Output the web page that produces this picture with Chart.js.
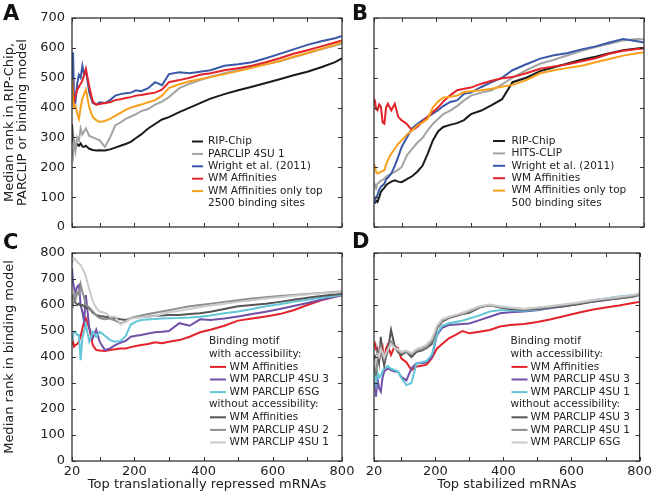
<!DOCTYPE html>
<html>
<head>
<meta charset="utf-8">
<script src="https://cdn.jsdelivr.net/npm/chart.js@4.4.0/dist/chart.umd.min.js"></script>
<style>
body{margin:0;background:#fff;}
#wrap{position:relative;width:655px;height:501px;}
#wrap canvas{position:absolute;left:0;top:0;}
</style>
</head>
<body>
<div id="wrap">
<canvas id="pA" width="655" height="501"></canvas>
<canvas id="pB" width="655" height="501"></canvas>
<canvas id="pC" width="655" height="501"></canvas>
<canvas id="pD" width="655" height="501"></canvas>
</div>
<script>
// number of top mRNAs (x), shared by all panels
const X = [20, 23, 26, 30, 35, 40, 45, 50, 55, 60, 70, 80, 90, 100, 115, 130, 145, 160, 175, 190,
           205, 220, 240, 260, 280, 300, 330, 360, 390, 420, 460, 500, 540, 580, 620, 660, 700, 740, 780, 800];
const X_TICKS = [20, 100, 200, 300, 400, 500, 600, 700, 800];
const X_LABELED = [20, 200, 400, 600, 800];
const Y_TICKS_TOP = [0, 100, 200, 300, 400, 500, 600, 700];
const Y_TICKS_BOTTOM = [0, 100, 200, 300, 400, 500, 600, 700, 800];

// panel A - translationally repressed
const A_labels = ['RIP-Chip', 'PARCLIP 4SU 1', 'Wright et al. (2011)', 'WM Affinities', 'WM Affinities only top'];
const A_ripchip = [345, 290, 275, 265, 278, 272, 280, 270, 268, 272, 262, 258, 256, 257, 256, 260, 266, 272, 278, 285,
                   298, 310, 330, 345, 360, 368, 385, 400, 415, 430, 445, 458, 470, 482, 495, 508, 520, 535, 552, 565];
const A_parclip = [260, 240, 290, 255, 300, 290, 330, 310, 320, 330, 305, 300, 295, 290, 268, 300, 340, 350, 362, 370,
                   378, 388, 395, 410, 420, 435, 465, 480, 492, 503, 515, 525, 535, 545, 555, 568, 582, 595, 608, 615];
const A_wright = [480, 585, 430, 420, 480, 510, 500, 540, 510, 525, 450, 415, 410, 418, 415, 425, 440, 445, 448, 450,
                  458, 455, 465, 485, 475, 512, 518, 515, 520, 525, 540, 545, 552, 565, 580, 595, 610, 622, 632, 640];
const A_wmaff = [500, 440, 420, 440, 460, 470, 480, 490, 510, 530, 470, 420, 410, 412, 415, 418, 425, 428, 432, 435,
                 440, 442, 446, 450, 460, 485, 492, 500, 510, 515, 525, 532, 540, 552, 565, 580, 592, 605, 618, 625];
const A_wmtop = [495, 420, 400, 405, 380, 362, 400, 430, 445, 460, 400, 368, 358, 352, 355, 362, 372, 382, 392, 400,
                 405, 410, 418, 425, 440, 465, 478, 488, 495, 502, 512, 522, 533, 545, 556, 570, 583, 597, 610, 620];

// panel B - stabilized
const B_labels = ['RIP-Chip', 'HITS-CLIP', 'Wright et al. (2011)', 'WM Affinities', 'WM Affinities only top'];
const B_ripchip = [84, 82, 88, 84, 100, 118, 125, 132, 140, 145, 152, 156, 152, 150, 160, 170, 185, 205, 245, 290,
                   320, 335, 342, 348, 358, 378, 390, 408, 428, 485, 500, 522, 535, 548, 560, 570, 582, 592, 598, 600];
const B_hits = [134, 140, 130, 145, 150, 155, 158, 162, 168, 172, 179, 185, 192, 201, 240, 262, 282, 298, 324, 345,
                362, 378, 390, 405, 424, 440, 450, 458, 478, 500, 525, 547, 560, 575, 590, 603, 614, 625, 630, 628];
const B_wright = [79, 90, 100, 107, 125, 135, 140, 145, 160, 165, 179, 205, 235, 268, 300, 330, 345, 357, 369, 380,
                  391, 405, 419, 424, 446, 450, 469, 485, 500, 525, 545, 564, 575, 583, 595, 605, 618, 630, 622, 618];
const B_wmaff = [430, 420, 395, 391, 410, 402, 350, 346, 400, 413, 391, 413, 369, 357, 345, 324, 335, 352, 369, 385,
                 400, 420, 441, 458, 463, 467, 480, 490, 498, 502, 515, 530, 538, 545, 555, 565, 580, 590, 596, 598];
const B_wmtop = [212, 200, 185, 179, 182, 185, 188, 190, 210, 224, 246, 262, 279, 290, 310, 324, 340, 350, 362, 400,
                 420, 433, 436, 440, 452, 455, 458, 463, 470, 476, 492, 515, 525, 533, 540, 552, 563, 574, 582, 585];

// panel C - binding models, translationally repressed
const C_labels = ['WM Affinities', 'WM PARCLIP 4SU 3', 'WM PARCLIP 6SG', 'WM Affinities', 'WM PARCLIP 4SU 2', 'WM PARCLIP 4SU 1'];
const C_accAff = [446, 459, 440, 446, 450, 459, 480, 510, 535, 549, 510, 446, 427, 425, 423, 427, 430, 433, 433, 438,
                  442, 446, 450, 457, 453, 459, 465, 478, 495, 505, 520, 540, 548, 556, 565, 580, 600, 618, 632, 640];
const C_acc4su3 = [741, 690, 664, 650, 670, 677, 600, 574, 536, 638, 510, 472, 505, 459, 427, 433, 446, 455, 462, 478,
                   482, 485, 490, 495, 497, 500, 530, 520, 545, 542, 548, 556, 565, 574, 585, 596, 608, 620, 632, 638];
const C_acc6sg = [459, 480, 497, 497, 485, 485, 388, 472, 500, 523, 459, 497, 478, 497, 482, 465, 459, 462, 480, 525,
                  536, 542, 544, 546, 548, 549, 550, 552, 555, 560, 568, 575, 585, 595, 603, 612, 620, 628, 635, 640];
const C_noAff = [638, 625, 615, 610, 600, 605, 598, 600, 595, 590, 587, 570, 562, 558, 555, 553, 549, 545, 542, 549,
                 552, 555, 556, 559, 560, 562, 562, 565, 568, 574, 585, 595, 600, 605, 612, 620, 628, 635, 640, 643];
const C_no4su2 = [610, 600, 640, 620, 650, 640, 680, 650, 630, 600, 590, 575, 560, 550, 545, 548, 540, 530, 535, 550,
                  555, 560, 565, 570, 575, 580, 588, 595, 600, 605, 612, 618, 625, 630, 635, 638, 642, 646, 650, 652];
const C_no4su1 = [760, 770, 780, 775, 765, 760, 754, 740, 728, 710, 660, 615, 590, 574, 570, 555, 555, 525, 536, 548,
                  550, 553, 556, 558, 565, 572, 578, 585, 592, 598, 605, 612, 618, 625, 630, 636, 640, 645, 648, 650];

// panel D - binding models, stabilized
const D_labels = ['WM Affinities', 'WM PARCLIP 4SU 3', 'WM PARCLIP 4SU 1', 'WM PARCLIP 4SU 3', 'WM PARCLIP 4SU 1', 'WM PARCLIP 6SG'];
const D_accAff = [440, 450, 430, 433, 390, 420, 440, 382, 430, 446, 408, 440, 435, 395, 380, 350, 363, 366, 372, 395,
                  433, 450, 472, 485, 500, 491, 497, 504, 517, 523, 527, 535, 545, 558, 570, 582, 590, 598, 608, 612];
const D_acc4su3 = [292, 300, 247, 318, 280, 267, 320, 344, 350, 356, 350, 344, 344, 324, 310, 356, 376, 376, 380, 400,
                   485, 512, 523, 525, 527, 529, 542, 555, 568, 572, 575, 580, 588, 595, 605, 612, 618, 628, 635, 640];
const D_acc4su1 = [360, 330, 300, 340, 320, 330, 345, 355, 360, 365, 355, 350, 345, 320, 292, 300, 376, 380, 385, 410,
                   490, 520, 530, 535, 540, 548, 560, 575, 580, 580, 578, 582, 590, 598, 608, 618, 625, 633, 638, 642];
const D_no4su3 = [344, 408, 330, 420, 380, 478, 400, 369, 400, 420, 504, 446, 420, 408, 420, 400, 420, 425, 435, 450,
                  510, 536, 550, 558, 565, 570, 590, 600, 590, 585, 582, 585, 590, 596, 603, 612, 620, 625, 632, 638];
const D_no4su1 = [360, 380, 350, 400, 420, 440, 410, 390, 410, 430, 460, 440, 425, 415, 420, 410, 425, 430, 440, 460,
                  515, 540, 552, 560, 567, 575, 592, 598, 592, 588, 585, 588, 593, 600, 607, 615, 622, 628, 635, 640];
const D_no6sg = [380, 370, 390, 410, 400, 430, 420, 400, 415, 425, 450, 435, 430, 420, 425, 415, 430, 438, 448, 470,
                 520, 545, 555, 562, 570, 580, 595, 602, 595, 590, 585, 590, 596, 603, 610, 618, 625, 632, 638, 645];

const TOP_COLORS = ['#1a1a1a', '#a3a3a3', '#3a58a8', '#e3232a', '#f7a01b'];
const BOTTOM_COLORS = ['#e3232a', '#7050a8', '#62c6d8', '#555555', '#8e8e8e', '#cacaca'];

Chart.defaults.font.family = '"DejaVu Sans", sans-serif';
Chart.defaults.color = '#222';

// box + inward tick marks on all four sides, matplotlib style
const framePlugin = {
    id: 'frameTicks',
    afterDraw(chart, args, opts) {
        const { ctx, chartArea: a } = chart;
        const x = chart.scales.x, y = chart.scales.y;
        ctx.save();
        ctx.strokeStyle = '#333';
        ctx.lineWidth = 1;
        ctx.beginPath();
        X_TICKS.forEach(v => {
            const px = Math.round(x.getPixelForValue(v)) + 0.5;
            ctx.moveTo(px, a.bottom); ctx.lineTo(px, a.bottom - 4);
            ctx.moveTo(px, a.top); ctx.lineTo(px, a.top + 4);
        });
        opts.yTicks.forEach(v => {
            const py = Math.round(y.getPixelForValue(v)) + 0.5;
            ctx.moveTo(a.left, py); ctx.lineTo(a.left + 4, py);
            ctx.moveTo(a.right, py); ctx.lineTo(a.right - 4, py);
        });
        ctx.stroke();
        ctx.lineWidth = 1.3;
        ctx.strokeRect(a.left, a.top, a.right - a.left, a.bottom - a.top);
        ctx.font = 'bold 21px "DejaVu Sans"';
        ctx.fillStyle = '#111';
        ctx.textBaseline = 'middle';
        ctx.fillText(opts.letter, opts.lx, opts.ly);
        ctx.restore();
    }
};

// legend drawn inside the plot, with header lines
const legendPlugin = {
    id: 'boxLegend',
    afterDraw(chart, args, opts) {
        const ctx = chart.ctx;
        ctx.save();
        ctx.font = '10.5px "DejaVu Sans"';
        ctx.textBaseline = 'middle';
        ctx.fillStyle = '#222';
        opts.rows.forEach((row, i) => {
            const y = opts.y + i * opts.step;
            if (row.ds !== undefined) {
                const ds = chart.data.datasets[row.ds];
                ctx.strokeStyle = ds.borderColor;
                ctx.lineWidth = 2;
                ctx.beginPath();
                ctx.moveTo(opts.lineX, y);
                ctx.lineTo(opts.lineX + opts.lineLen, y);
                ctx.stroke();
                ctx.fillText(ds.label, opts.textX, y);
            } else {
                ctx.fillText(row.text, row.head ? opts.headX : opts.textX, y);
            }
        });
        ctx.restore();
    }
};

function createPanel(id, cfg) {
    const ctx = document.getElementById(id).getContext('2d');
    return new Chart(ctx, {
        type: 'line',
        data: {
            datasets: cfg.series.map((s, i) => ({
                label: cfg.labels[i],
                data: X.map((x, j) => ({ x: x, y: s[j] })),
                borderColor: cfg.colors[i],
                borderWidth: 2,
                pointRadius: 0,
                tension: 0,
                fill: false,
                order: cfg.series.length - i
            }))
        },
        options: {
            responsive: false,
            animation: false,
            layout: { padding: cfg.pad },
            plugins: {
                legend: { display: false },
                tooltip: { enabled: false },
                boxLegend: cfg.legend,
                frameTicks: { yTicks: cfg.yTicks, letter: cfg.letter, lx: cfg.lx, ly: cfg.ly }
            },
            scales: {
                x: {
                    type: 'linear', min: 20, max: 800,
                    grid: { display: false, drawTicks: false },
                    border: { display: false },
                    afterBuildTicks: s => { s.ticks = X_TICKS.map(v => ({ value: v })); },
                    afterFit: s => { s.height = cfg.xH; },
                    ticks: {
                        display: cfg.xLabels, autoSkip: false, maxRotation: 0, padding: 3,
                        font: { size: 13 },
                        callback: v => X_LABELED.includes(v) ? String(v) : ''
                    },
                    title: {
                        display: !!cfg.xTitle, text: cfg.xTitle || '',
                        font: { size: 13 }, padding: { top: 0, bottom: 9 }
                    }
                },
                y: {
                    min: 0, max: cfg.yTicks[cfg.yTicks.length - 1],
                    grid: { display: false, drawTicks: false },
                    border: { display: false },
                    afterBuildTicks: s => { s.ticks = cfg.yTicks.map(v => ({ value: v })); },
                    afterFit: s => { s.width = cfg.yW; },
                    ticks: { display: cfg.yLabels, padding: 7, font: { size: 13 } },
                    title: {
                        display: !!cfg.yTitle, text: cfg.yTitle || '',
                        font: { size: 13, lineHeight: 1.0 }, padding: { top: 3.5, bottom: 0 }
                    }
                }
            }
        },
        plugins: [framePlugin, legendPlugin]
    });
}

createPanel('pA', {
    series: [A_ripchip, A_parclip, A_wright, A_wmaff, A_wmtop], labels: A_labels, colors: TOP_COLORS,
    yTicks: Y_TICKS_TOP, pad: { left: 0, top: 18, right: 313, bottom: 0 }, yW: 72, xH: 274,
    xLabels: false, yLabels: true,
    yTitle: ['Median rank in RIP-Chip,', 'PARCLIP or binding model'],
    letter: 'A', lx: 3, ly: 15,
    legend: {
        lineX: 192, lineLen: 11, textX: 208, y: 141.5, step: 12.4,
        rows: [{ ds: 0 }, { ds: 1 }, { ds: 2 }, { ds: 3 }, { ds: 4 }, { text: '2500 binding sites' }]
    }
});

createPanel('pB', {
    series: [B_ripchip, B_hits, B_wright, B_wmaff, B_wmtop], labels: B_labels, colors: TOP_COLORS,
    yTicks: Y_TICKS_TOP, pad: { left: 364, top: 18, right: 11, bottom: 0 }, yW: 10, xH: 274,
    xLabels: false, yLabels: false,
    letter: 'B', lx: 352, ly: 15,
    legend: {
        lineX: 493, lineLen: 12, textX: 511.5, y: 141, step: 12.4,
        rows: [{ ds: 0 }, { ds: 1 }, { ds: 2 }, { ds: 3 }, { ds: 4 }, { text: '500 binding sites' }]
    }
});

createPanel('pC', {
    series: [C_accAff, C_acc4su3, C_acc6sg, C_noAff, C_no4su2, C_no4su1], labels: C_labels, colors: BOTTOM_COLORS,
    yTicks: Y_TICKS_BOTTOM, pad: { left: 0, top: 253, right: 313, bottom: 0 }, yW: 72, xH: 40,
    xLabels: true, yLabels: true,
    yTitle: 'Median rank in binding model', xTitle: 'Top translationally repressed mRNAs',
    letter: 'C', lx: 3, ly: 244,
    legend: {
        headX: 209, lineX: 210, lineLen: 16, textX: 229.5, y: 341.7, step: 12.6,
        rows: [{ text: 'Binding motif', head: true }, { text: 'with accessibility:', head: true },
               { ds: 0 }, { ds: 1 }, { ds: 2 },
               { text: 'without accessibility:', head: true }, { ds: 3 }, { ds: 4 }, { ds: 5 }]
    }
});

createPanel('pD', {
    series: [D_accAff, D_acc4su3, D_acc4su1, D_no4su3, D_no4su1, D_no6sg], labels: D_labels, colors: BOTTOM_COLORS,
    yTicks: Y_TICKS_BOTTOM, pad: { left: 364, top: 253, right: 11, bottom: 0 }, yW: 10, xH: 40,
    xLabels: true, yLabels: false,
    xTitle: 'Top stabilized mRNAs',
    letter: 'D', lx: 352, ly: 243,
    legend: {
        headX: 510.5, lineX: 511.5, lineLen: 16, textX: 530.5, y: 341.7, step: 12.6,
        rows: [{ text: 'Binding motif', head: true }, { text: 'with accessibility:', head: true },
               { ds: 0 }, { ds: 1 }, { ds: 2 },
               { text: 'without accessibility:', head: true }, { ds: 3 }, { ds: 4 }, { ds: 5 }]
    }
});
</script>
</body>
</html>
